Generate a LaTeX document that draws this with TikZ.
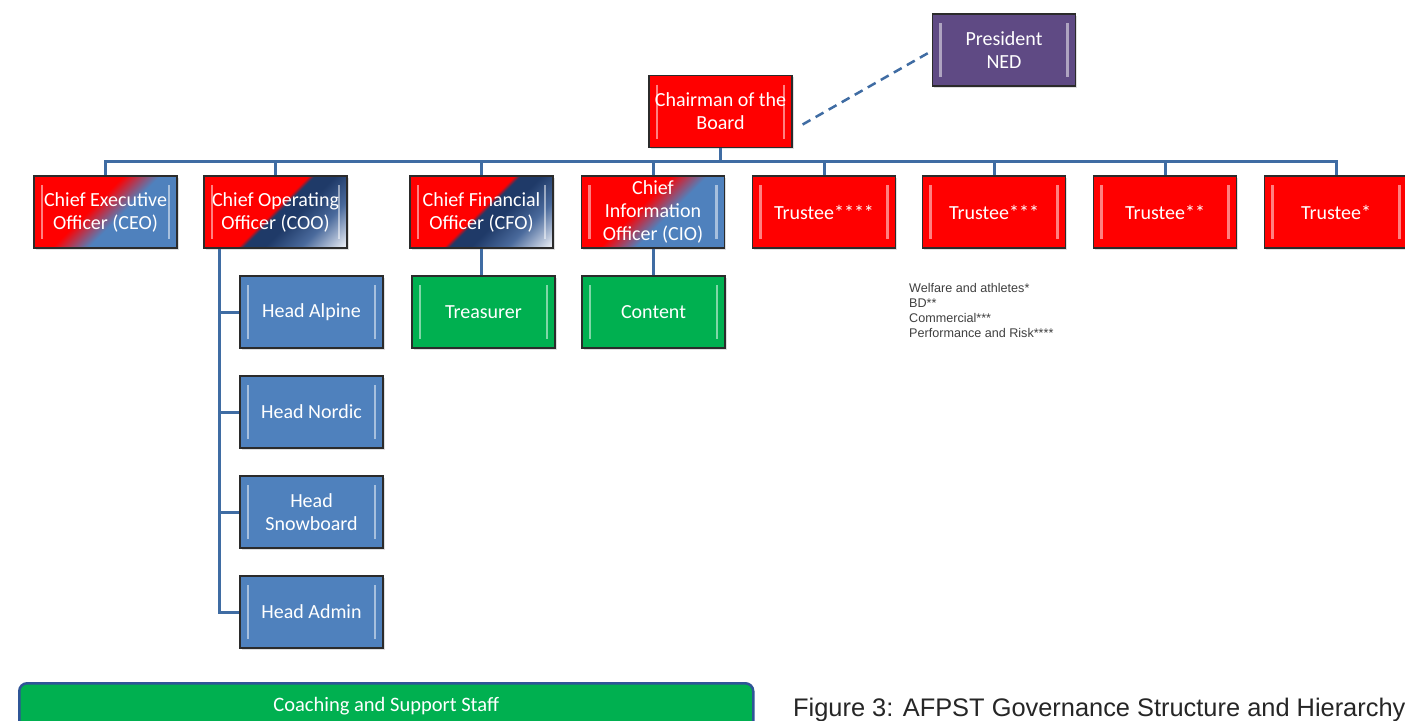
\documentclass[tikz,border=0pt]{standalone}
\usepackage{fontspec}
\setmainfont{Carlito}
\newfontfamily\arialfont{Liberation Sans}
\usetikzlibrary{calc,shadows}
\definecolor{cred}{HTML}{FF0000}
\definecolor{cblue}{HTML}{4F81BD}
\definecolor{cnavy}{HTML}{1F3A68}
\definecolor{cnavyb}{HTML}{4A6A9C}
\definecolor{clight}{HTML}{E4E9F2}
\definecolor{cgreen}{HTML}{00B050}
\definecolor{cpurple}{HTML}{5F4A84}
\definecolor{connblue}{HTML}{3F6CA3}
\definecolor{edgegray}{HTML}{2B2B2B}
\definecolor{coachedge}{HTML}{2F5597}
\pgfdeclareverticalshading{redblue}{100bp}{color(0bp)=(cblue); color(44bp)=(cblue); color(56bp)=(cred); color(100bp)=(cred)}
\pgfdeclareverticalshading{rednavy}{100bp}{color(0bp)=(clight); color(16bp)=(clight); color(30bp)=(cnavyb); color(42bp)=(cnavy); color(49bp)=(cnavy); color(51bp)=(cred); color(100bp)=(cred)}
\tikzset{
  orgbox/.style={draw=edgegray, line width=1.2pt, minimum width=143pt, minimum height=72pt,
    text=white, font=\fontsize{20}{23}\selectfont, align=center, inner sep=1pt,
    drop shadow={opacity=0.25, shadow xshift=1.5pt, shadow yshift=-1.5pt},
    path picture={
      \draw[white, opacity=0.5, line width=2.2pt]
        ($(path picture bounding box.north west)+(8,9)$) -- ($(path picture bounding box.south west)+(8,-9)$);
      \draw[white, opacity=0.5, line width=2.2pt]
        ($(path picture bounding box.north east)+(-8,9)$) -- ($(path picture bounding box.south east)+(-8,-9)$);
    }},
  redbox/.style={orgbox, fill=cred},
  bluebox/.style={orgbox, fill=cblue},
  greenbox/.style={orgbox, fill=cgreen},
  purplebox/.style={orgbox, fill=cpurple},
  rbbox/.style={orgbox, shading=redblue, shading angle=45},
  rnbox/.style={orgbox, shading=rednavy, shading angle=45},
  link/.style={draw=connblue, line width=3pt},
}
\begin{document}
\begin{tikzpicture}[x=1pt,y=-1pt]
\clip (0,0) rectangle (1405,720);
\fill[white] (0,0) rectangle (1405,720);

% top
\node[purplebox] (pres) at (1004,50) {President\\NED};
\node[redbox] (chair) at (720.5,111.5) {Chairman of the\\Board};

% second row
\node[rbbox] (ceo) at (105.5,212) {Chief Executive\\Officer (CEO)};
\node[rnbox] (coo) at (275.5,212) {Chief Operating\\Officer (COO)};
\node[rnbox] (cfo) at (481.5,212) {Chief Financial\\Officer (CFO)};
\node[rbbox] (cio) at (653,212) {Chief\\Information\\Officer (CIO)};
\node[redbox] (t4) at (824,212) {Trustee****};
\node[redbox] (t3) at (994,212) {Trustee***};
\node[redbox] (t2) at (1165,212) {Trustee**};
\node[redbox] (t1) at (1336,212) {Trustee*};

% third level
\node[bluebox] (halpine) at (311.5,312) {Head Alpine};
\node[bluebox] (hnordic) at (311.5,412) {Head Nordic};
\node[bluebox] (hsnow) at (311.5,512) {Head\\Snowboard};
\node[bluebox] (hadmin) at (311.5,612) {Head Admin};
\node[greenbox] (treas) at (483.5,312) {Treasurer};
\node[greenbox] (content) at (653.5,312) {Content};

% legend
\node[anchor=north west, align=left, inner sep=0pt, text=black!75,
      font=\arialfont\fontsize{12.6}{15}\selectfont] (legend) at (909,283)
  {Welfare and athletes*\\BD**\\Commercial***\\Performance and Risk****};

% coaching bar
\node[anchor=north west, draw=coachedge, line width=2.5pt, fill=cgreen, rounded corners=8pt,
      minimum width=734pt, minimum height=46pt, text=white, font=\fontsize{20.5}{23}\selectfont]
  (coach) at (18,682) {Coaching and Support Staff};

% caption
\node[anchor=base west, inner sep=0pt, text=black!85, font=\arialfont\fontsize{25.4}{30}\selectfont]
  (caption) at (793,716) {Figure 3: AFPST Governance Structure and Hierarchy};

% connectors
\coordinate (bus) at (720,161);
\draw[link] (chair.south) -- (chair.south |- bus);
\draw[link] (ceo.north) |- (bus) -| (t1.north);
\draw[link] (coo.north) -- (coo.north |- bus);
\draw[link] (cfo.north) -- (cfo.north |- bus);
\draw[link] (cio.north) -- (cio.north |- bus);
\draw[link] (t4.north) -- (t4.north |- bus);
\draw[link] (t3.north) -- (t3.north |- bus);
\draw[link] (t2.north) -- (t2.north |- bus);

\coordinate (spine) at ($(coo.south west)+(16,0)$);
\draw[link] (spine) |- (hadmin.west);
\draw[link] (spine |- halpine.west) -- (halpine.west);
\draw[link] (spine |- hnordic.west) -- (hnordic.west);
\draw[link] (spine |- hsnow.west) -- (hsnow.west);

\draw[link] (cfo.south) -- (cfo.south |- treas.north);
\draw[link] (cio.south) -- (cio.south |- content.north);

\draw[connblue, line width=2.5pt, dash pattern=on 9pt off 6pt]
  ($(chair.east)+(10,13)$) -- ($(pres.west)+(-2,2)$);
\end{tikzpicture}
\end{document}
